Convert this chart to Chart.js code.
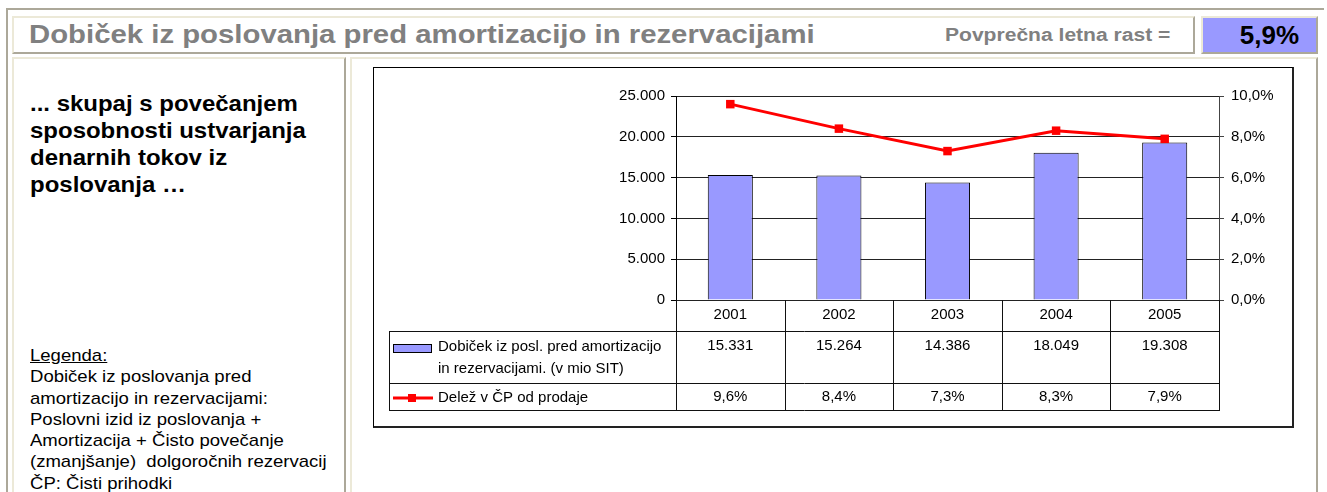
<!DOCTYPE html>
<html>
<head>
<meta charset="utf-8">
<script src="https://cdn.jsdelivr.net/npm/chart.js@4/dist/chart.umd.min.js"></script>
<style>
  body { margin: 0; background: #fff; font-family: "Liberation Sans", Arial, sans-serif; }
  .box { position: absolute; box-sizing: border-box; }
  .wide { transform-origin: left top; white-space: nowrap; }
  .outer { left: 6px; top: 8px; width: 1318px; height: 500px; border-top: 2px solid #aca899; border-left: 2px solid #aca899; }
  .raised { border-top: 2px solid #ece9d8; border-left: 2px solid #ece9d8; border-right: 2px solid #aca899; border-bottom: 2px solid #aca899; }
  #title { left: 12px; top: 16px; width: 1183px; height: 38px; }
  #title h1 { position: absolute; left: 15px; top: 1px; margin: 0; font-size: 26px; font-weight: bold; color: #808080; transform: scaleX(1.128); }
  #title span { position: absolute; left: 931px; top: 7px; font-size: 18px; font-weight: bold; color: #808080; transform: scaleX(1.17); }
  #rast { left: 1201px; top: 16px; width: 117px; height: 38px; background: #9999ff; }
  #rast span { position: absolute; right: 17px; top: 2px; font-size: 26px; font-weight: bold; color: #000; }
  #left { left: 12px; top: 57px; width: 334px; height: 450px; }
  #right { left: 350px; top: 57px; width: 968px; height: 450px; }
  #lead { position: absolute; left: 16px; top: 31px; margin: 0; font-size: 22px; font-weight: bold; line-height: 27px; color: #000; transform: scaleX(1.09); }
  #legenda { position: absolute; left: 16px; top: 286px; margin: 0; font-size: 17px; line-height: 21.3px; color: #000; transform: scaleX(1.09); }
  #frame { left: 373px; top: 67px; width: 921px; height: 361px; border: 1px solid #000; border-right: 2px solid #222; border-bottom: 2px solid #222; }
  #chart { position: absolute; left: 0; top: 0; }
</style>
</head>
<body>
<div class="box outer"></div>
<div class="box raised" id="title">
  <h1 class="wide">Dobiček iz poslovanja pred amortizacijo in rezervacijami</h1>
  <span class="wide">Povprečna letna rast =</span>
</div>
<div class="box raised" id="rast"><span>5,9%</span></div>
<div class="box raised" id="left">
  <p id="lead" class="wide">... skupaj s povečanjem<br>sposobnosti ustvarjanja<br>denarnih tokov iz<br>poslovanja …</p>
  <p id="legenda" class="wide"><u>Legenda:</u><br>Dobiček iz poslovanja pred<br>amortizacijo in rezervacijami:<br>Poslovni izid iz poslovanja +<br>Amortizacija + Čisto povečanje<br>(zmanjšanje)&nbsp; dolgoročnih rezervacij<br>ČP: Čisti prihodki</p>
</div>
<div class="box raised" id="right"></div>
<div class="box" id="frame"><canvas id="chart" width="918" height="358"></canvas></div>

<script>
const years = ['2001', '2002', '2003', '2004', '2005'];
const dobicek = [15331, 15264, 14386, 18049, 19308];
const delez = [9.6, 8.4, 7.3, 8.3, 7.9];
const barLabel = ['Dobiček iz posl. pred amortizacijo', 'in rezervacijami. (v mio SIT)'];
const lineLabel = 'Delež v ČP od prodaje';

const FONT = '"Liberation Sans", Arial, sans-serif';
const BAR_COLOR = '#9999ff';
const LINE_COLOR = '#ff0000';

function thousands(v) {
  return String(Math.round(v)).replace(/\B(?=(\d{3})+(?!\d))/g, '.');
}
function pct(v) {
  return v.toFixed(1).replace('.', ',') + '%';
}

// data table under the plot, positioned from the x scale
const dataTable = {
  id: 'dataTable',
  afterDraw(chart) {
    const ctx = chart.ctx;
    const x = chart.scales.x;
    const area = chart.chartArea;
    const b = area.bottom;
    const colW = x.width / years.length;
    const tableLeft = 15;
    const r1 = b + 31, r2 = b + 83, r3 = b + 110;

    ctx.save();
    ctx.strokeStyle = '#111';
    ctx.lineWidth = 1;
    ctx.beginPath();
    for (let i = 0; i <= years.length; i++) {
      const px = Math.round(area.left + i * colW) + 0.5;
      ctx.moveTo(px, b);
      ctx.lineTo(px, r3);
    }
    ctx.moveTo(tableLeft + 0.5, r1);
    ctx.lineTo(tableLeft + 0.5, r3);
    [r1, r2, r3].forEach(y => {
      ctx.moveTo(tableLeft, Math.round(y) + 0.5);
      ctx.lineTo(Math.round(area.right) + 1, Math.round(y) + 0.5);
    });
    ctx.stroke();

    ctx.fillStyle = '#000';
    ctx.font = '15px ' + FONT;
    ctx.textAlign = 'center';
    ctx.textBaseline = 'middle';
    years.forEach((yr, i) => {
      const cx = x.getPixelForValue(i);
      ctx.fillText(yr, cx, b + 15);
      ctx.fillText(thousands(dobicek[i]), cx, b + 46);
      ctx.fillText(pct(delez[i]), cx, b + 97);
    });

    // legend keys
    ctx.fillStyle = BAR_COLOR;
    ctx.fillRect(19.5, b + 44.5, 38, 8);
    ctx.strokeStyle = '#000';
    ctx.strokeRect(19.5, b + 44.5, 38, 8);

    ctx.strokeStyle = LINE_COLOR;
    ctx.lineWidth = 3;
    ctx.beginPath();
    ctx.moveTo(19, b + 98);
    ctx.lineTo(59, b + 98);
    ctx.stroke();
    ctx.fillStyle = LINE_COLOR;
    ctx.fillRect(34, b + 94, 8, 8);

    ctx.fillStyle = '#000';
    ctx.textAlign = 'left';
    ctx.fillText(barLabel[0], 64, b + 47);
    ctx.fillText(barLabel[1], 64, b + 69);
    ctx.fillText(lineLabel, 64, b + 98);
    ctx.restore();
  }
};

new Chart(document.getElementById('chart'), {
  type: 'bar',
  data: {
    labels: years,
    datasets: [
      {
        type: 'line',
        label: lineLabel,
        data: delez,
        yAxisID: 'y1',
        borderColor: LINE_COLOR,
        backgroundColor: LINE_COLOR,
        borderWidth: 3,
        pointStyle: 'rect',
        pointRadius: 6,
        pointBorderWidth: 0,
        tension: 0,
        order: 0
      },
      {
        label: barLabel.join(' '),
        data: dobicek,
        yAxisID: 'y',
        backgroundColor: BAR_COLOR,
        borderColor: '#000',
        borderWidth: 1,
        categoryPercentage: 1,
        barPercentage: 0.415,
        order: 1
      }
    ]
  },
  options: {
    responsive: false,
    devicePixelRatio: 1,
    animation: false,
    layout: { padding: { left: 0, right: 0, top: 28, bottom: 126 } },
    plugins: { legend: { display: false }, tooltip: { enabled: false } },
    scales: {
      x: { display: false, offset: true },
      y: {
        position: 'left',
        min: 0,
        max: 25000,
        afterFit(scale) { scale.width = 302; },
        ticks: {
          stepSize: 5000,
          color: '#000',
          padding: 6,
          font: { family: FONT, size: 15 },
          callback: v => thousands(v)
        },
        grid: { color: '#222', lineWidth: 1, tickLength: 5, tickColor: '#000' },
        border: { color: '#000' }
      },
      y1: {
        position: 'right',
        min: 0,
        max: 10,
        afterFit(scale) { scale.width = 73; },
        ticks: {
          stepSize: 2,
          color: '#000',
          padding: 7,
          font: { family: FONT, size: 15 },
          callback: v => pct(v)
        },
        grid: { drawOnChartArea: false, tickLength: 5, tickColor: '#444' },
        border: { color: '#444' }
      }
    }
  },
  plugins: [dataTable]
});
</script>
</body>
</html>
